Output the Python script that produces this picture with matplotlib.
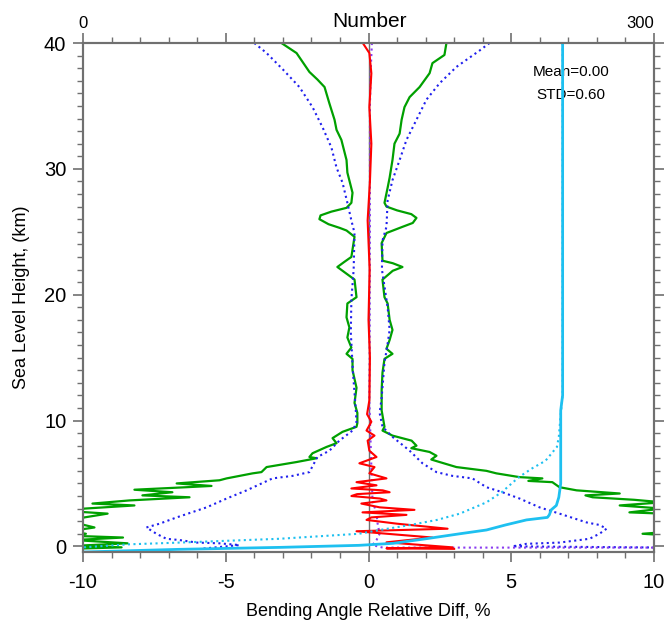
import numpy as np
import matplotlib
matplotlib.use('Agg')
import matplotlib.pyplot as plt
from matplotlib.ticker import MultipleLocator

plt.rcParams['font.family'] = ['Liberation Sans', 'DejaVu Sans']
plt.rcParams['axes.unicode_minus'] = False

# ---- data (height km, value) ----
# green: +/- std (solid)
green_left_h = [40, 39.2, 37.7, 37.1, 36.5, 35.2, 33.9, 33.1, 32.3, 30.7, 29.7, 28.1, 27.3, 26.9,
                26.6, 26.3, 26.0, 25.6, 25.3, 25.1, 24.6, 23.0, 22.6, 22.2, 21.8, 21.2, 19.8, 19.3,
                18.2, 17.4, 16.6, 15.8, 15.3, 14.9, 14.0, 12.6, 11.4, 10.6, 9.8, 9.5, 9.1, 8.6,
                8.2, 7.9, 7.4, 7.1, 7.0, 6.7, 6.3, 5.9, 5.8, 5.4, 5.25, 5.0, 4.8, 4.7, 4.5, 4.3,
                4.05, 3.9, 3.65, 3.4, 3.25, 3.0, 2.8, 2.6, 2.3, 2.0, 1.5, 1.2, 1.0, 0.85, 0.7,
                0.5, 0.24, 0.05, -0.08, -0.2]
green_left_x = [-3.05, -2.52, -2.07, -1.79, -1.54, -1.37, -1.19, -1.12, -0.95, -0.77, -0.74, -0.56,
                -0.60, -0.77, -1.3, -1.68, -1.72, -1.4, -1.0, -0.77, -0.49, -0.6, -0.85, -1.09,
                -0.85, -0.49, -0.42, -0.74, -0.77, -0.67, -0.74, -0.6, -0.77, -0.56, -0.56, -0.42,
                -0.49, -0.39, -0.39, -0.42, -0.91, -1.26, -1.12, -1.47, -1.96, -2.07, -1.82, -2.52,
                -3.57, -3.75, -4.06, -4.97, -5.22, -6.72, -5.5, -6.37, -8.2, -6.87, -7.92, -6.27,
                -8.37, -9.67, -8.2, -9.95, -10.5, -9.14, -9.95, -10.5, -9.6, -10.5, -9.9, -10.5,
                -8.6, -10.3, -8.44, -10.2, -8.65, -10.5]

green_right_h = [40, 39.05, 38.4, 37.6, 36.5, 35.7, 34.9, 33.9, 32.8, 32.0, 30.7, 29.3, 28.5, 27.3,
                 27.0, 26.7, 26.4, 26.1, 25.7, 25.4, 24.9, 24.1, 22.7, 22.5, 22.2, 21.9, 21.2, 19.8,
                 19.3, 18.0, 17.2, 16.4, 15.7, 15.3, 14.9, 13.8, 12.4, 10.8, 9.5, 9.2, 8.8, 8.4,
                 8.0, 7.8, 7.5, 7.2, 6.9, 6.7, 6.3, 6.0, 5.8, 5.5, 5.4, 5.2, 5.1, 4.7, 4.45, 4.2,
                 4.05, 3.9, 3.7, 3.5, 3.25, 3.0, 2.7, 2.6, 2.3, 2.0, 1.5, 1.1, 1.0, 0.9, 0.5, 0.0]
green_right_x = [2.73, 2.66, 2.24, 2.14, 1.79, 1.44, 1.26, 1.16, 1.09, 0.91, 0.84, 0.74, 0.67, 0.56,
                 0.63, 1.0, 1.5, 1.68, 1.55, 1.2, 0.63, 0.46, 0.49, 0.85, 1.19, 0.85, 0.49, 0.56,
                 0.67, 0.74, 0.84, 0.74, 0.63, 0.84, 0.56, 0.49, 0.46, 0.46, 0.56, 0.49, 0.84, 1.51,
                 1.68, 1.5, 2.14, 2.38, 2.2, 2.49, 3.08, 4.13, 4.48, 5.29, 6.09, 5.6, 6.44, 6.69,
                 7.29, 8.8, 7.6, 7.85, 9.3, 10.3, 8.8, 10.3, 9.14, 10.3, 10.5, 10.3, 10.5, 10.2,
                 9.6, 10.3, 10.5, 10.5]

# blue dotted: +/- rms
blue_left_h = [40, 39.2, 37.9, 36.5, 34.9, 33.3, 31.7, 30.1, 28.9, 27.3, 25.9, 24.9, 22, 19.6, 17,
               14, 11, 9.8, 9.2, 8.4, 7.6, 7.1, 5.9, 5.6, 5.4, 4.45, 3.8, 3.1, 2.3, 1.8, 1.5, 1.0,
               0.6, 0.5, 0.3, 0.24, 0.1, -0.2]
blue_left_x = [-4.0, -3.57, -3.0, -2.42, -1.96, -1.61, -1.30, -1.12, -0.91, -0.74, -0.60, -0.49,
               -0.52, -0.6, -0.62, -0.55, -0.45, -0.42, -0.56, -1.02, -1.37, -1.79, -2.07, -2.66,
               -3.36, -4.27, -4.97, -5.67, -6.72, -7.32, -7.78, -7.43, -7.08, -6.62, -6.02, -5.22,
               -4.52, -5.9]

blue_right_h = [40, 39.4, 38.1, 36.8, 35.5, 33.9, 32.3, 30.7, 29.1, 27.5, 25.4, 24.3, 22, 19, 17.2,
                16.1, 14.6, 11.8, 10.6, 9.5, 8.7, 7.6, 6.6, 5.9, 5.6, 5.4, 4.7, 4.3, 3.8, 3.1, 2.6,
                1.9, 1.7, 1.4, 1.0, 0.6, 0.3, 0.2, 0.0, -0.1]
blue_right_x = [4.24, 3.89, 3.08, 2.49, 2.03, 1.68, 1.33, 1.09, 0.84, 0.67, 0.63, 0.49, 0.47, 0.67,
                0.74, 0.67, 0.56, 0.46, 0.39, 0.49, 0.84, 1.44, 1.89, 2.38, 2.94, 3.64, 4.13, 4.69,
                5.29, 5.99, 6.69, 7.64, 8.09, 8.34, 8.09, 7.74, 6.69, 5.53, 5.04, 10.5]

# purple dotted: median
median_h = [40, 38, 35, 25, 15, 11.6, 6.3, 3.65, 2.6, 1.8, 1.0, 0.5, 0.1, -0.1, -0.1]
median_x = [0.12, 0.08, 0.05, 0.05, 0.04, 0.03, 0.1, 0.14, 0.28, 0.32, 0.39, 0.28, 0.14, 0.5, 10.5]

# red solid: mean
mean_h = [40, 39.2, 37.6, 34.9, 32, 29, 25.9, 22, 18, 15, 11.6, 10.5, 9.9, 9.2, 8.8, 8.4, 7.6, 7.1,
          6.6, 6.3, 5.8, 5.4, 5.1, 4.85, 4.6, 4.45, 4.3, 4.15, 4.0, 3.8, 3.65, 3.4, 3.1, 2.9, 2.7,
          2.5, 2.3, 2.1, 1.8, 1.4, 1.2, 0.7, 0.32, -0.08, -0.16, -0.2]
mean_x = [-0.2, 0.03, 0.1, 0.03, 0.1, 0.05, -0.03, 0.04, 0.0, 0.05, 0.03, -0.05, 0.1, -0.07, 0.21,
          -0.03, 0.03, 0.28, -0.32, 0.21, 0.03, 0.63, -0.42, 0.28, -0.6, 0.5, 0.74, -0.4, -0.6,
          0.4, 0.63, -0.25, 0.39, 1.61, -0.21, 1.33, 0.1, -0.07, 1.0, 2.77, -0.42, 2.24, 0.63,
          2.94, 0.63, 3.0]

# cyan: number of profiles (top axis)
num_h = [40, 12, 10.8, 5, 3.9, 3.25, 2.9, 2.5, 2.3, 2.1, 1.7, 1.3, 1.0, 0.6, 0.24, 0.08, -0.08,
         -0.24, -0.45]
num_n = [252, 252, 251, 251, 250, 248.7, 246, 245, 244, 233, 222, 212, 198, 180, 163, 145, 104,
         50, 0]
num2_h = [40, 12, 10.5, 8.7, 7.9, 6.8, 6.2, 5.5, 4.3, 3.5, 2.6, 2.1, 1.7, 1.3, 1.0, 0.6, 0.3,
          0.16, -0.08]
num2_n = [252, 252, 251, 250, 249, 243, 236, 229, 220, 212, 198, 186, 172, 156, 145, 103, 51,
          24, 0]

mean_txt = 'Mean=0.00'
std_txt = 'STD=0.60'

# ---- plot ----
fig = plt.figure(figsize=(6.68, 6.26), dpi=100)
ax = fig.add_axes([0.1243, 0.1182, 0.8547, 0.8131])

ax.axvline(0, color='#707070', lw=1.0, zorder=1)
ax.plot(green_left_x, green_left_h, color='#00a000', lw=1.6)
ax.plot(green_right_x, green_right_h, color='#00a000', lw=1.6)
ax.plot(blue_left_x, blue_left_h, color='#2020ee', lw=1.5, ls=':')
ax.plot(blue_right_x, blue_right_h, color='#2020ee', lw=1.5, ls=':')
ax.plot(median_x, median_h, color='#8a3cf0', lw=1.5, ls=':')
ax.plot(mean_x, mean_h, color='#ff0000', lw=1.5)

ax.set_xlim(-10, 10)
ax.set_ylim(-0.45, 40)
ax.xaxis.set_major_locator(MultipleLocator(5))
ax.xaxis.set_minor_locator(MultipleLocator(1))
ax.yaxis.set_major_locator(MultipleLocator(10))
ax.yaxis.set_minor_locator(MultipleLocator(1))
ax.tick_params(which='both', direction='out', color='#707070', right=True, labelsize=14.5)
ax.tick_params(which='major', length=7, width=1.2)
ax.tick_params(which='minor', length=4, width=1.0)
ax.tick_params(axis='x', pad=8)
ax.tick_params(axis='y', pad=5)
ax.set_xlabel('Bending Angle Relative Diff, %', fontsize=13, labelpad=8)
ax.set_ylabel('Sea Level Height, (km)', fontsize=13, labelpad=10)
for s in ax.spines.values():
    s.set_color('#707070')
    s.set_linewidth(1.5)

ax.text(7.1, 37.7, mean_txt, ha='center', va='center', fontsize=11)
ax.text(7.1, 35.9, std_txt, ha='center', va='center', fontsize=11)

ax2 = ax.twiny()
ax2.set_xlim(0, 300)
ax2.plot(num2_n, num2_h, color='#1ec0f0', lw=1.5, ls=':')
ax2.plot(num_n, num_h, color='#1ec0f0', lw=2.0)
ax2.xaxis.set_minor_locator(MultipleLocator(15))
ax2.set_xticks([0, 75, 150, 225, 300])
ax2.set_xticklabels(['0', '', '', '', '300'])
ax2.get_xticklabels()[-1].set_ha('right')
ax2.tick_params(which='both', direction='out', color='#707070', labelsize=12, pad=2)
ax2.tick_params(which='major', length=7, width=1.2)
ax2.tick_params(which='minor', length=4, width=1.0)
for s in ax2.spines.values():
    s.set_color('#707070')
    s.set_linewidth(1.5)
fig.text(0.5524, 0.966, 'Number', ha='center', va='center', fontsize=15)

fig.savefig('out.png', dpi=100)
